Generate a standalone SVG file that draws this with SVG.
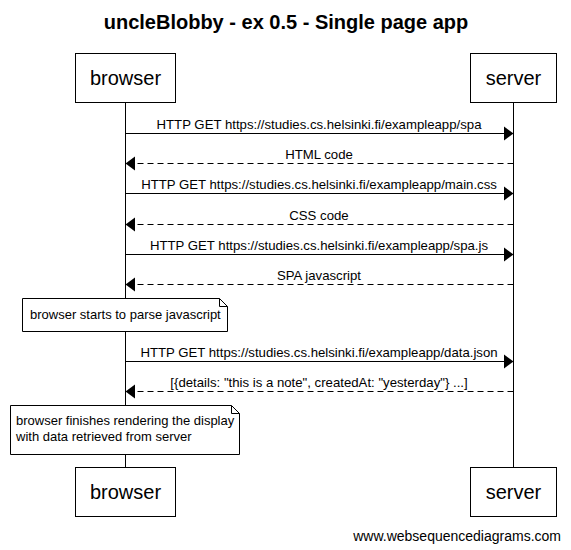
<svg xmlns="http://www.w3.org/2000/svg" width="571" height="550" viewBox="0 0 571 550">
<style>
text{font-family:"Liberation Sans",Arial,sans-serif;fill:#000}
.title{font-size:20px;font-weight:bold}
.actor{font-size:20px}
.lbl{font-size:13.2px}
.nt{font-size:13px}
.box{fill:#fff;stroke:#000;stroke-width:1}
.life{stroke:#000;stroke-width:1}
.msg{stroke:#000;stroke-width:1;fill:none}
.ret{stroke:#000;stroke-width:1;fill:none;stroke-dasharray:6,4}
.head{fill:#000}
</style>
<rect width="571" height="550" fill="#fff"/>
<text class="title" x="286" y="29" text-anchor="middle">uncleBlobby - ex 0.5 - Single page app</text>
<g id="lifelines">
<line class="life" x1="125.5" y1="102" x2="125.5" y2="467"/>
<line class="life" x1="513.5" y1="102" x2="513.5" y2="467"/>
</g>
<g id="browser">
<rect class="box" x="75.5" y="53.5" width="100" height="49"/>
<text class="actor" x="125.5" y="85" text-anchor="middle">browser</text>
</g>
<g id="server">
<rect class="box" x="470.5" y="53.5" width="86" height="49"/>
<text class="actor" x="513.5" y="85" text-anchor="middle">server</text>
</g>
<g id="browser-bottom">
<rect class="box" x="75.5" y="467.5" width="100" height="49"/>
<text class="actor" x="125.5" y="499" text-anchor="middle">browser</text>
</g>
<g id="server-bottom">
<rect class="box" x="470.5" y="467.5" width="86" height="49"/>
<text class="actor" x="513.5" y="499" text-anchor="middle">server</text>
</g>
<g id="connectors">
<line class="msg" x1="125.5" y1="133.5" x2="505" y2="133.5"/>
<polygon class="head" points="513.5,133.5 504,126.5 504,140.5"/>
<text class="lbl" x="319" y="128.5" text-anchor="middle">HTTP GET https://studies.cs.helsinki.fi/exampleapp/spa</text>

<line class="ret" x1="513.5" y1="163.5" x2="134" y2="163.5"/>
<polygon class="head" points="125.5,163.5 135,156.5 135,170.5"/>
<text class="lbl" x="319" y="158.5" text-anchor="middle">HTML code</text>

<line class="msg" x1="125.5" y1="193.5" x2="505" y2="193.5"/>
<polygon class="head" points="513.5,193.5 504,186.5 504,200.5"/>
<text class="lbl" x="319" y="188.5" text-anchor="middle">HTTP GET https://studies.cs.helsinki.fi/exampleapp/main.css</text>

<line class="ret" x1="513.5" y1="224.5" x2="134" y2="224.5"/>
<polygon class="head" points="125.5,224.5 135,217.5 135,231.5"/>
<text class="lbl" x="319" y="219.5" text-anchor="middle">CSS code</text>

<line class="msg" x1="125.5" y1="254.5" x2="505" y2="254.5"/>
<polygon class="head" points="513.5,254.5 504,247.5 504,261.5"/>
<text class="lbl" x="319" y="249.5" text-anchor="middle">HTTP GET https://studies.cs.helsinki.fi/exampleapp/spa.js</text>

<line class="ret" x1="513.5" y1="284.5" x2="134" y2="284.5"/>
<polygon class="head" points="125.5,284.5 135,277.5 135,291.5"/>
<text class="lbl" x="319" y="279.5" text-anchor="middle">SPA javascript</text>

<line class="msg" x1="125.5" y1="361.5" x2="505" y2="361.5"/>
<polygon class="head" points="513.5,361.5 504,354.5 504,368.5"/>
<text class="lbl" x="319" y="356.5" text-anchor="middle">HTTP GET https://studies.cs.helsinki.fi/exampleapp/data.json</text>

<line class="ret" x1="513.5" y1="391.5" x2="134" y2="391.5"/>
<polygon class="head" points="125.5,391.5 135,384.5 135,398.5"/>
<text class="lbl" x="319" y="386.5" text-anchor="middle">[{details: "this is a note", createdAt: "yesterday"} ...]</text>
</g>
<g id="note-parse">
<path class="box" d="M22.5,298.5 H219.5 L227.5,306.5 V331.5 H22.5 Z"/>
<path class="msg" d="M219.5,298.5 V306.5 H227.5"/>
<text class="nt" x="30" y="319">browser starts to parse javascript</text>
</g>
<g id="note-render">
<path class="box" d="M10.5,405.5 H231.5 L239.5,413.5 V454.5 H10.5 Z"/>
<path class="msg" d="M231.5,405.5 V413.5 H239.5"/>
<text class="nt" x="16" y="425">browser finishes rendering the display</text>
<text class="nt" x="16" y="441">with data retrieved from server</text>
</g>
<text x="561" y="541" text-anchor="end" style="font-size:14px">www.websequencediagrams.com</text>
</svg>
